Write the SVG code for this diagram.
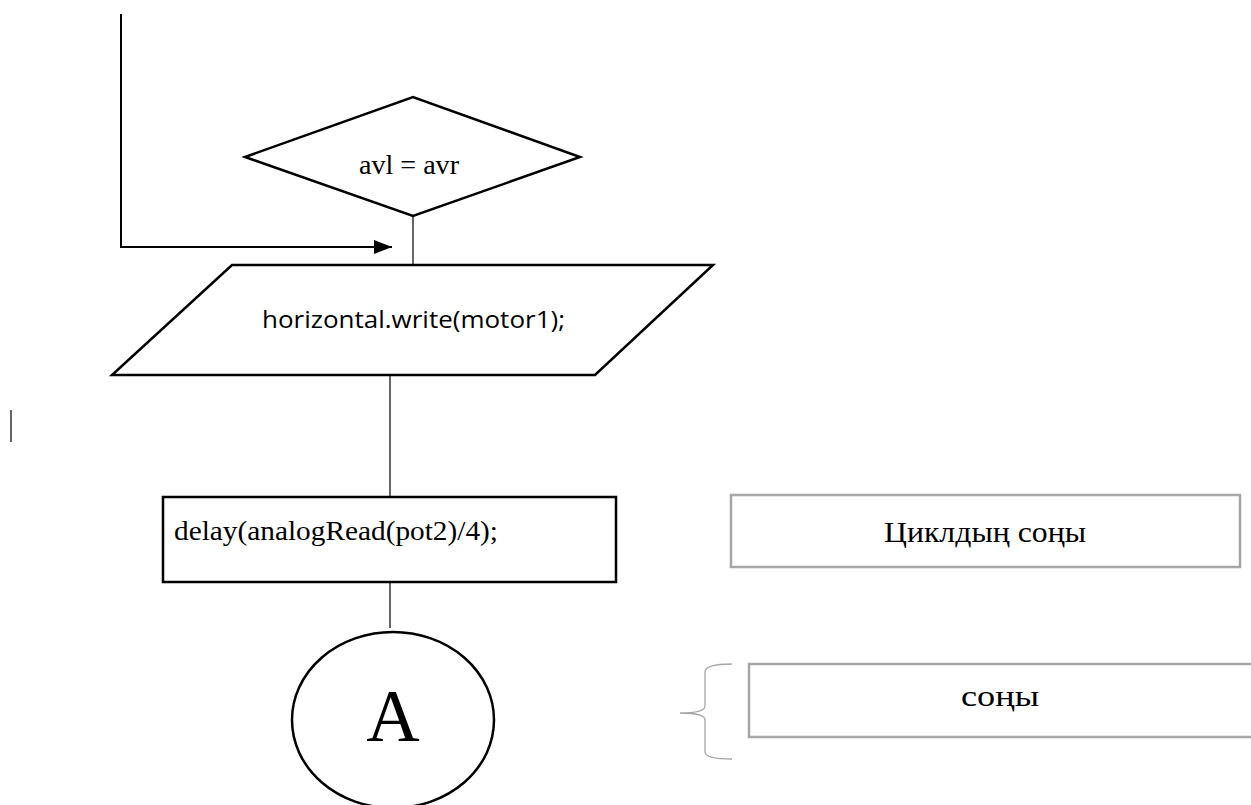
<svg xmlns="http://www.w3.org/2000/svg" width="1251" height="805" viewBox="0 0 1251 805">
<style>
.s{fill:#fff;stroke:#000;stroke-width:2.5}
.c{fill:none;stroke:#000;stroke-width:1.2}
.g{fill:#fff;stroke:#a6a6a6;stroke-width:2.5}
.t{font-family:"Liberation Serif",serif;fill:#000}
.k{font-family:"Open Sans","Liberation Sans",sans-serif;fill:#000}
</style>
<defs>
<marker id="ah2" viewBox="0 0 18 14" refX="18" refY="7" markerWidth="18" markerHeight="14" markerUnits="userSpaceOnUse" orient="auto">
<path d="M0,0 L18,7 L0,14 z" fill="#000"/>
</marker>
</defs>
<rect width="1251" height="805" fill="#fff"/>
<g id="connectors">
<polyline points="121,14 121,247 392,247" fill="none" stroke="#000" stroke-width="2" marker-end="url(#ah2)"/>
<line class="c" x1="413" y1="216" x2="413" y2="265"/>
<line class="c" x1="390" y1="375" x2="390" y2="497"/>
<line class="c" x1="390" y1="583" x2="390" y2="628"/>
<line x1="11" y1="410" x2="11" y2="442" stroke="#333" stroke-width="1.5"/>
</g>
<g id="decision">
<polygon class="s" points="245,157 413,97 580,157 413,216"/>
<text class="t" x="409" y="174" font-size="28" text-anchor="middle" textLength="100" lengthAdjust="spacingAndGlyphs">avl = avr</text>
</g>
<g id="io">
<polygon class="s" points="232,265 713,265 595,375 112,375"/>
<text class="k" x="262" y="328" font-size="23" textLength="303" lengthAdjust="spacingAndGlyphs">horizontal.write(motor1);</text>
</g>
<g id="process">
<rect class="s" x="163" y="497" width="453" height="85"/>
<text class="t" x="174" y="540" font-size="28" textLength="324" lengthAdjust="spacingAndGlyphs">delay(analogRead(pot2)/4);</text>
</g>
<g id="connector-a">
<ellipse class="s" cx="393" cy="720" rx="101" ry="88"/>
<text class="t" x="393" y="741" font-size="74" text-anchor="middle">A</text>
</g>
<g id="loop-end">
<rect class="g" x="731" y="495" width="509" height="72"/>
<text class="t" x="985" y="542" font-size="30" text-anchor="middle" textLength="202" lengthAdjust="spacingAndGlyphs">Циклдың соңы</text>
</g>
<g id="end">
<path d="M732,664 Q705,664 705,672 L705,706 Q705,713 680,713 Q705,713 705,720 L705,752 Q705,759 732,759" fill="none" stroke="#a6a6a6" stroke-width="1.3"/>
<rect class="g" x="749" y="664" width="520" height="73"/>
<text class="t" x="1000" y="706" font-size="30" text-anchor="middle" textLength="78" lengthAdjust="spacingAndGlyphs">соңы</text>
</g>
</svg>
